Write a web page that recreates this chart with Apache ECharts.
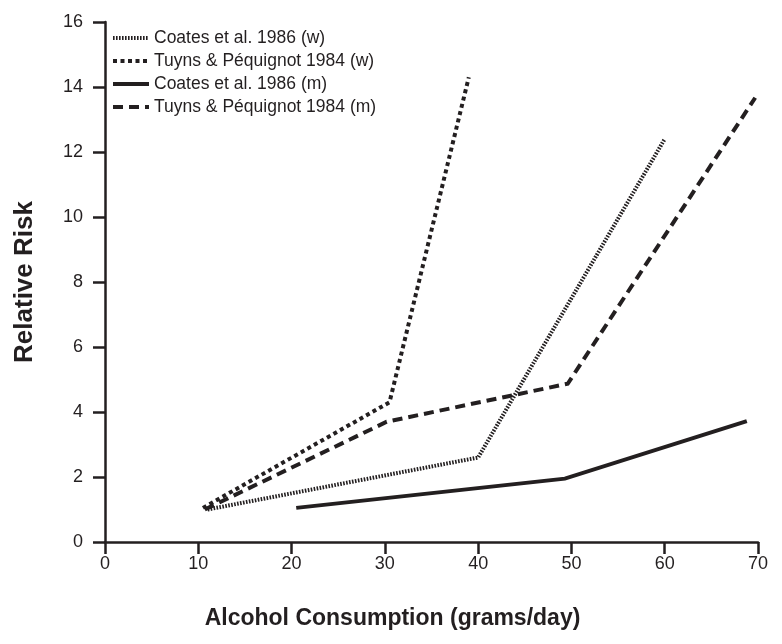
<!DOCTYPE html>
<html><head><meta charset="utf-8">
<script src="https://cdn.jsdelivr.net/npm/echarts@6/dist/echarts.min.js"></script>
<style>html,body{margin:0;padding:0;background:#fff}#c{width:782px;height:644px}</style>
</head><body><div id="c"></div>
<script>
const seriesNames = ["Coates et al. 1986 (w)", "Tuyns & Péquignot 1984 (w)", "Coates et al. 1986 (m)", "Tuyns & Péquignot 1984 (m)"];
const coatesW = [[11, 1.0], [40, 2.6], [60, 12.4]];
const tuynsW = [[10.5, 1.05], [30.5, 4.3], [39, 14.3]];
const coatesM = [[20.5, 1.05], [49.3, 1.95], [68.8, 3.72]];
const tuynsM = [[10.7, 1.0], [30.2, 3.7], [49.6, 4.87], [69.7, 13.67]];
const xTicks = [0, 10, 20, 30, 40, 50, 60, 70];
const yTicks = [0, 2, 4, 6, 8, 10, 12, 14, 16];

const ink = '#231f20';
const font = 'Liberation Sans, Arial, sans-serif';
const chart = echarts.init(document.getElementById('c'), null, {renderer: 'canvas'});
const styles = [
  {type: [1.6, 1.4], width: 4},
  {type: [4, 3.5], width: 4},
  {type: 'solid', width: 4},
  {type: [10, 6], width: 4}
];
const datas = [coatesW, tuynsW, coatesM, tuynsM];
chart.setOption({
  animation: false,
  backgroundColor: '#fff',
  grid: {left: 105, right: 24, top: 22, bottom: 102, containLabel: false},
  legend: {
    orient: 'vertical', left: 106, top: 24,
    itemWidth: 36, itemHeight: 17, itemGap: 5,
    data: seriesNames.map((n, i) => ({
      name: n,
      itemStyle: {opacity: 0},
      lineStyle: {width: styles[i].width, type: styles[i].type, color: ink, cap: 'butt'}
    })),
    textStyle: {fontFamily: font, fontSize: 17.5, color: ink}
  },
  xAxis: {
    type: 'value', min: xTicks[0], max: xTicks[xTicks.length - 1], interval: 10,
    name: 'Alcohol Consumption (grams/day)', nameLocation: 'middle', nameGap: 65,
    nameTextStyle: {fontFamily: font, fontSize: 23, fontWeight: 'bold', color: ink, padding: [0, 78, 0, 0]},
    axisLine: {lineStyle: {color: ink, width: 2.5}},
    axisTick: {show: true, length: 12, lineStyle: {color: ink, width: 2.5}},
    axisLabel: {fontFamily: font, fontSize: 18, color: ink, margin: 13},
    splitLine: {show: false}
  },
  yAxis: {
    type: 'value', min: yTicks[0], max: yTicks[yTicks.length - 1], interval: 2,
    name: 'Relative Risk', nameLocation: 'middle', nameGap: 67, nameRotate: 90,
    nameTextStyle: {fontFamily: font, fontSize: 26, fontWeight: 'bold', color: ink},
    axisLine: {show: true, lineStyle: {color: ink, width: 2.5}},
    axisTick: {show: true, length: 12, lineStyle: {color: ink, width: 2.5}},
    axisLabel: {fontFamily: font, fontSize: 18, color: ink, margin: 22},
    splitLine: {show: false}
  },
  series: seriesNames.map((n, i) => ({
    name: n, type: 'line', data: datas[i], symbol: 'none', showSymbol: false,
    color: ink,
    lineStyle: {color: ink, width: styles[i].width, type: styles[i].type, cap: 'butt', join: 'miter'}
  }))
});
</script></body></html>
